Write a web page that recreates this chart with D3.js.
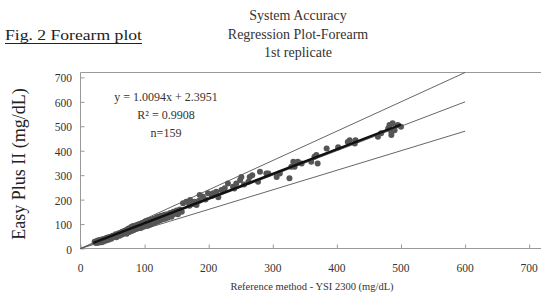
<!DOCTYPE html>
<html>
<head>
<meta charset="utf-8">
<script src="https://cdn.jsdelivr.net/npm/d3@7"></script>
<style>
  body { margin: 0; background: #fff; }
  svg text { font-family: "Liberation Serif", "Times New Roman", serif; }
</style>
</head>
<body>
<div class="chart"></div>
<script>
///////////
// DATA  //
///////////

var refValues = [22, 24, 25, 26, 27, 28, 30, 30, 32, 33, 34, 35, 36, 38, 39, 40, 41, 42, 44, 45, 46, 48, 50, 50, 52, 54, 55, 56, 58, 60,
    61, 62, 64, 65, 66, 68, 70, 70, 72, 73, 74, 75, 76, 78, 79, 80, 81, 82, 83, 85, 86, 87, 88, 90, 90, 92, 93, 94, 95, 96,
    98, 99, 100, 101, 102, 104, 105, 106, 108, 109, 110, 111, 112, 114, 115, 116, 118, 119, 120, 121, 122, 124, 125, 126, 128, 130, 131, 132, 134, 135,
    136, 138, 140, 142, 143, 145, 148, 150, 152, 155, 158,
    160, 165, 170, 171, 175, 178, 181, 185, 186, 191, 195, 199, 205, 207, 212, 215, 220, 225, 230, 238, 240, 243, 249, 251, 255, 262, 264, 268, 277, 280, 290, 293,
    306, 311, 326, 329, 332, 334, 339, 345, 360, 365, 368, 370, 384, 402, 417, 420, 428, 429, 464, 469, 480, 482, 485, 485, 487, 490, 495, 500];

var meterValues = [28, 22, 30, 25, 33, 24, 28, 35, 30, 26, 38, 32, 29, 40, 35, 33, 44, 38, 36, 47, 42, 40, 52, 45, 48, 50, 58, 46, 55, 62,
    52, 58, 66, 57, 70, 62, 74, 65, 60, 78, 70, 82, 68, 75, 88, 72, 84, 92, 76, 80, 90, 95, 82, 86, 98, 92, 100, 84, 96, 104,
    90, 100, 108, 95, 112, 100, 93, 116, 105, 98, 118, 110, 102, 122, 112, 105, 120, 128, 110, 118, 130, 115, 124, 134, 120, 128, 138, 122, 132, 140,
    126, 134, 145, 130, 138, 150, 142, 155, 140, 160, 150,
    185, 191, 175, 198, 182, 191, 178, 195, 219, 212, 200, 226, 215, 226, 232, 210, 239, 246, 266, 253, 245, 266, 280, 293, 262, 273, 293, 300, 273, 314, 307, 307,
    293, 307, 287, 334, 355, 334, 355, 348, 355, 375, 382, 348, 409, 414, 436, 443, 430, 443, 457, 471, 491, 505, 464, 477, 512, 484, 505, 498];

var tickValues = [0, 100, 200, 300, 400, 500, 600, 700];
var boundSlopes = [1.2, 1.0, 0.8];   // +20%, identity, -20%
var fitSlope = 1.0094, fitIntercept = 2.3951;

var titleLines = ['System Accuracy', 'Regression Plot-Forearm', '1st replicate'];
var statLines = ['y = 1.0094x + 2.3951', 'R\u00b2 = 0.9908', 'n=159'];

////////////
// SVG    //
////////////

var W = 541, H = 294;
var svg = d3.select('.chart').append('svg')
    .attr('width', W)
    .attr('height', H);

var x = d3.scaleLinear().domain([0, 720]).range([80.5, 542]);
var y = d3.scaleLinear().domain([0, 720]).range([248.5, 72.5]);

///////////
// TEXTS //
///////////

svg.append('text')
    .attr('x', 5).attr('y', 40)
    .attr('font-size', 15)
    .attr('textLength', 137)
    .attr('lengthAdjust', 'spacingAndGlyphs')
    .attr('fill', '#222')
    .text('Fig. 2 Forearm plot');

svg.append('line')
    .attr('x1', 5).attr('x2', 142)
    .attr('y1', 43.5).attr('y2', 43.5)
    .attr('stroke', '#222');

svg.selectAll('.title')
    .data(titleLines)
    .enter().append('text')
    .attr('class', 'title')
    .attr('x', 298)
    .attr('y', function(d, i) { return 20 + i * 18.5; })
    .attr('text-anchor', 'middle')
    .attr('font-size', 14)
    .attr('fill', '#333')
    .text(function(d) { return d; });

//////////
// AXES //
//////////

var frame = svg.append('g').attr('stroke', '#999').attr('stroke-width', 1);
frame.append('line').attr('x1', x(0)).attr('x2', x(0)).attr('y1', y(720)).attr('y2', y(0));
frame.append('line').attr('x1', x(0)).attr('x2', W).attr('y1', y(720)).attr('y2', y(720));
frame.append('line').attr('x1', x(0)).attr('x2', W).attr('y1', y(0)).attr('y2', y(0));

var xAxis = svg.append('g')
    .attr('transform', 'translate(0,' + y(0) + ')')
    .call(d3.axisTop(x).tickValues(tickValues).tickSize(4).tickFormat(''));
xAxis.select('.domain').remove();
xAxis.selectAll('line').attr('stroke', '#999');

var yAxis = svg.append('g')
    .attr('transform', 'translate(' + x(0) + ',0)')
    .call(d3.axisRight(y).tickValues(tickValues).tickSize(4).tickFormat(''));
yAxis.select('.domain').remove();
yAxis.selectAll('line').attr('stroke', '#999');

svg.selectAll('.xlabel')
    .data(tickValues)
    .enter().append('text')
    .attr('class', 'xlabel')
    .attr('x', function(d) { return x(d); })
    .attr('y', 272)
    .attr('text-anchor', 'middle')
    .attr('font-size', 11.5)
    .attr('fill', '#333')
    .text(function(d) { return d; });

svg.selectAll('.ylabel')
    .data(tickValues)
    .enter().append('text')
    .attr('class', 'ylabel')
    .attr('x', 72)
    .attr('y', function(d) { return y(d) + 5; })
    .attr('text-anchor', 'end')
    .attr('font-size', 11.5)
    .attr('fill', '#333')
    .text(function(d) { return d; });

svg.append('text')
    .attr('x', 312).attr('y', 290)
    .attr('text-anchor', 'middle')
    .attr('font-size', 10.5)
    .attr('fill', '#333')
    .text('Reference method - YSI 2300  (mg/dL)');

svg.append('text')
    .attr('transform', 'translate(25,164) rotate(-90)')
    .attr('text-anchor', 'middle')
    .attr('font-size', 18)
    .attr('fill', '#222')
    .text('Easy Plus II (mg/dL)');

//////////////////
// GUIDE LINES  //
//////////////////

svg.selectAll('.bound')
    .data(boundSlopes)
    .enter().append('line')
    .attr('class', 'bound')
    .attr('x1', x(0)).attr('y1', y(0))
    .attr('x2', x(600))
    .attr('y2', function(d) { return y(600 * d); })
    .attr('stroke', '#555')
    .attr('stroke-width', 0.9);

////////////
// POINTS //
////////////

var points = refValues.map(function(v, i) { return [v, meterValues[i]]; });

svg.selectAll('.pt')
    .data(points)
    .enter().append('circle')
    .attr('class', 'pt')
    .attr('cx', function(d) { return x(d[0]); })
    .attr('cy', function(d) { return y(d[1]); })
    .attr('r', 3)
    .attr('fill', '#555');

svg.append('line')
    .attr('x1', x(20)).attr('y1', y(fitSlope * 20 + fitIntercept))
    .attr('x2', x(500)).attr('y2', y(fitSlope * 500 + fitIntercept))
    .attr('stroke', '#111')
    .attr('stroke-width', 2.4);

////////////////
// STATISTICS //
////////////////

svg.selectAll('.stat')
    .data(statLines)
    .enter().append('text')
    .attr('class', 'stat')
    .attr('x', 166)
    .attr('y', function(d, i) { return 101 + i * 18; })
    .attr('text-anchor', 'middle')
    .attr('font-size', 12)
    .attr('fill', '#333')
    .text(function(d) { return d; });
</script>
</body>
</html>
